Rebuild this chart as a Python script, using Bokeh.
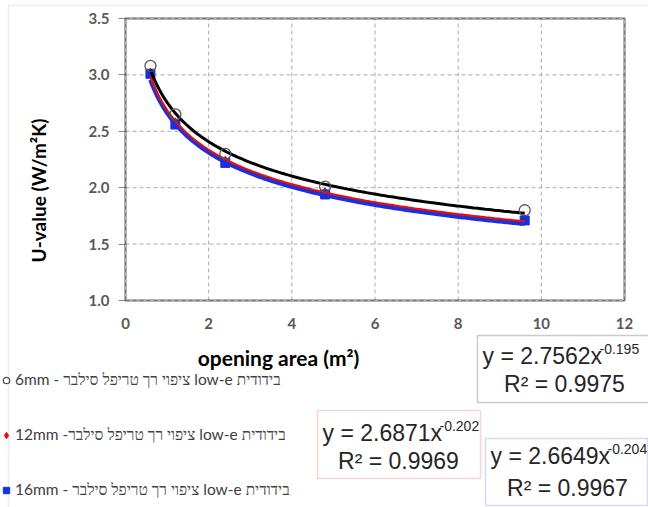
import numpy as np
from bokeh.plotting import figure
from bokeh.models import (Label, BoxAnnotation, Legend, LegendItem, FixedTicker,
                          Range1d, NumeralTickFormatter, LinearAxis)
from bokeh.embed import file_html
from bokeh.resources import INLINE

# ---------------- data ----------------
area = [0.6, 1.2, 2.4, 4.8, 9.6]
u_6mm = [3.08, 2.65, 2.30, 2.01, 1.80]
u_12mm = [3.02, 2.58, 2.24, 1.96, 1.72]
u_16mm = [3.01, 2.56, 2.22, 1.94, 1.71]

series_names = [
    "\u202bבידודית low-e ציפוי רך טריפל סילבר - 6mm\u202c",
    "\u202bבידודית low-e ציפוי רך טריפל סילבר- 12mm\u202c",
    "\u202bבידודית low-e ציפוי רך טריפל סילבר - 16mm\u202c",
]
# power trend-line fits shown on the chart: y = a * x^b
fit_a = [2.7562, 2.6871, 2.6649]
fit_b = [-0.195, -0.202, -0.204]
fit_r2 = ["0.9975", "0.9969", "0.9967"]

x_ticks = [0, 2, 4, 6, 8, 10, 12]
y_ticks = [1.0, 1.5, 2.0, 2.5, 3.0, 3.5]
x_title = "opening area (m\u00b2)"
y_title = "U-value (W/m\u00b2K)"

# ---------------- layout (canvas px) ----------------
W, H = 648, 507
FL, FR, FT, FB = 125, 624, 18, 300   # plot-area box in canvas px
x0, x1 = min(x_ticks), max(x_ticks)
y0, y1 = min(y_ticks), max(y_ticks)
kx = (FR - FL) / (x1 - x0)
ky = (FB - FT) / (y1 - y0)
xr = Range1d(x0 - FL / kx, x1 + (W - FR) / kx)
yr = Range1d(y0 - (H - FB) / ky, y1 + FT / ky)

p = figure(width=W, height=H, output_backend="svg", toolbar_location=None,
           x_range=xr, y_range=yr, x_axis_location=None, y_axis_location=None,
           min_border=0)
p.background_fill_color = "white"
p.border_fill_color = "white"
p.outline_line_color = None
p.grid.visible = False

FONT = "Lato"
xax = LinearAxis(fixed_location=y0, bounds=(x0, x1))
yax = LinearAxis(fixed_location=x0, bounds=(y0, y1))
p.add_layout(xax, "below")
p.add_layout(yax, "left")
for ax in (xax, yax):
    ax.axis_line_color = None
    ax.major_label_text_font = FONT
    ax.major_label_text_font_size = "15px"
    ax.major_label_text_color = "#595959"
    ax.major_label_text_font_style = "bold"
    ax.minor_tick_line_color = None

xax.ticker = FixedTicker(ticks=x_ticks)
yax.ticker = FixedTicker(ticks=y_ticks)
yax.formatter = NumeralTickFormatter(format="0.0")
xax.major_tick_line_color = None
xax.major_tick_out = 0
xax.major_label_standoff = 17
yax.major_tick_line_color = "#888888"
yax.major_tick_out = 7
yax.major_tick_in = 0
yax.major_label_standoff = 9

# grid lines (dashed) from tick values
p.segment(x0=x_ticks, x1=x_ticks, y0=[y0] * len(x_ticks), y1=[y1] * len(x_ticks),
          line_color="#ababab", line_dash="4 3", line_width=1)
p.segment(x0=[x0] * len(y_ticks), x1=[x1] * len(y_ticks), y0=y_ticks, y1=y_ticks,
          line_color="#ababab", line_dash="4 3", line_width=1)

# ---------------- markers + trend lines ----------------
r_di = p.scatter(area, u_12mm, marker="diamond", size=9, fill_color="#e01010",
                 line_color="#e01010")
r_sq = p.scatter(area, u_16mm, marker="square", size=9, fill_color="#1a2fe0",
                 line_color="#1a2fe0")

xf = np.linspace(min(area), max(area), 200)
line_cols = ["black", "#e01010", "#1a2fe0"]
line_w = [3, 2.2, 4.5]
for i in [2, 1, 0]:
    p.line(xf, fit_a[i] * xf ** fit_b[i], line_color=line_cols[i], line_width=line_w[i])

r_ci = p.scatter(area, u_6mm, marker="circle", size=11, fill_color=None,
                 line_color="#555555", line_width=1.3)

# plot-area frame
p.add_layout(BoxAnnotation(left=x0, right=x1, bottom=y0, top=y1, fill_color=None,
                           line_color="black", line_width=3))


def sy(y):
    return H - y


# outer gray chart border
p.add_layout(BoxAnnotation(left=8, right=W + 40, top=sy(5), bottom=-40,
                           left_units="screen", right_units="screen",
                           top_units="screen", bottom_units="screen",
                           fill_color=None, line_color="#c8c8c8", line_width=1.5))

# axis titles
p.add_layout(Label(x=278, y=sy(357), x_units="screen", y_units="screen", text=x_title,
                   text_font=FONT, text_font_size="21px", text_font_style="bold",
                   text_align="center", text_baseline="middle", text_color="black"))
p.add_layout(Label(x=38, y=sy(190), x_units="screen", y_units="screen", text=y_title,
                   angle=np.pi / 2, text_font=FONT, text_font_size="19px",
                   text_font_style="bold", text_align="center",
                   text_baseline="middle", text_color="black"))

# legend
legend = Legend(items=[LegendItem(label=series_names[0], renderers=[r_ci]),
                       LegendItem(label=series_names[1], renderers=[r_di]),
                       LegendItem(label=series_names[2], renderers=[r_sq])],
                location=(-2, sy(499)), orientation="vertical",
                label_text_font=FONT, label_text_font_size="15.5px",
                label_text_color="#404040",
                glyph_width=16, glyph_height=16, label_height=14, spacing=36,
                label_standoff=1, padding=0, margin=0,
                border_line_color=None, background_fill_alpha=0)
p.add_layout(legend, "center")

# equation boxes
boxes = [
    dict(l=477, r=W + 20, t=335, b=402, col="#505050", ex=482, ey=355, py=348,
         rx=564, ry=383),
    dict(l=317, r=480, t=410, b=478, col="#e87070", ex=322, ey=432, py=425,
         rx=398, ry=460),
    dict(l=485, r=647, t=438, b=505, col="#7f86d6", ex=490, ey=455, py=448,
         rx=567, ry=487),
]
EQF = "Liberation Sans"
for i, bx in enumerate(boxes):
    p.add_layout(BoxAnnotation(left=bx["l"], right=bx["r"],
                               top=sy(bx["t"]), bottom=sy(bx["b"]),
                               left_units="screen", right_units="screen",
                               top_units="screen", bottom_units="screen",
                               fill_color="white", fill_alpha=1,
                               line_color=bx["col"], line_width=1.5))
    p.add_layout(Label(x=bx["ex"], y=sy(bx["ey"]), x_units="screen", y_units="screen",
                       text=f"y = {fit_a[i]:.4f}x", text_font=EQF,
                       text_font_size="23px", text_baseline="middle",
                       text_align="left", text_color="#262626"))
    p.add_layout(Label(x=bx["ex"] + 117, y=sy(bx["py"]), x_units="screen",
                       y_units="screen", text=f"{fit_b[i]:.3f}", text_font=EQF,
                       text_font_size="14px", text_baseline="middle",
                       text_align="left", text_color="#262626"))
    p.add_layout(Label(x=bx["rx"], y=sy(bx["ry"]), x_units="screen",
                       y_units="screen", text=f"R\u00b2 = {fit_r2[i]}", text_font=EQF,
                       text_font_size="23px", text_baseline="middle",
                       text_align="center", text_color="#262626"))

open("out.html", "w").write(file_html(p, INLINE))
